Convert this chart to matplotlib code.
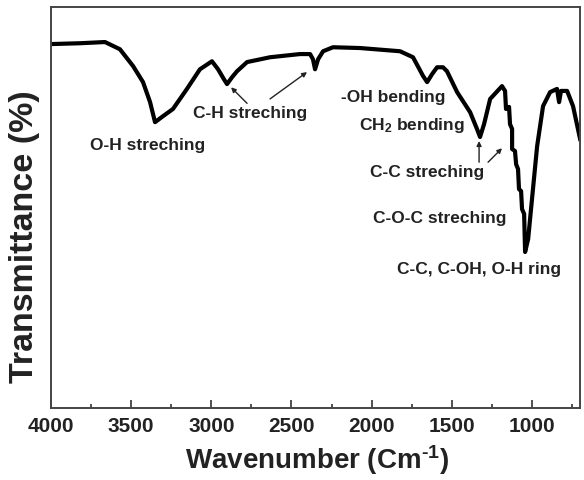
import matplotlib
matplotlib.use("Agg")
import matplotlib.pyplot as plt

plt.rcParams['font.family'] = ['Liberation Sans', 'DejaVu Sans']
plt.rcParams['mathtext.fontset'] = 'custom'
plt.rcParams['mathtext.rm'] = 'Liberation Sans:bold'
plt.rcParams['mathtext.bf'] = 'Liberation Sans:bold'
plt.rcParams['mathtext.it'] = 'Liberation Sans:bold'

wavenumber = [3994, 3819, 3663, 3570, 3488, 3426, 3382, 3351, 3308, 3239, 3152, 3071,
              2996, 2958, 2921, 2902, 2871, 2840, 2777, 2634, 2447, 2384, 2366, 2353,
              2334, 2303, 2241, 2072, 1823, 1742, 1679, 1654, 1623, 1592, 1555, 1530,
              1467, 1386, 1343, 1324, 1299, 1261, 1187, 1168, 1162, 1143, 1137, 1124,
              1124, 1106, 1099, 1087, 1081, 1068, 1062, 1049, 1043, 1024, 1012, 968,
              931, 887, 844, 831, 819, 781, 744, 700]
transmittance = [90.8, 91.0, 91.3, 89.5, 85.3, 81.3, 76.3, 71.3, 72.6, 74.6, 79.6, 84.5,
                 86.5, 84.5, 82.0, 80.8, 82.5, 84.0, 86.3, 87.5, 88.3, 88.3, 87.0, 84.5,
                 87.0, 89.0, 90.0, 89.8, 89.0, 87.5, 82.8, 81.3, 83.3, 85.0, 85.0, 84.0,
                 78.8, 73.8, 69.6, 67.6, 70.8, 77.1, 80.3, 79.1, 74.6, 75.1, 70.8, 69.6,
                 64.6, 64.1, 60.8, 59.6, 54.6, 54.1, 49.6, 48.4, 38.9, 42.1, 47.1, 65.3,
                 75.3, 78.8, 79.6, 76.3, 79.1, 79.1, 75.3, 67.1]

xticks = [4000, 3500, 3000, 2500, 2000, 1500, 1000]

fig = plt.figure(figsize=(5.84, 4.81), dpi=100)
ax = fig.add_axes([0.0873, 0.150, 0.906, 0.833])
ax.plot(wavenumber, transmittance, color='black', lw=3.0, solid_joinstyle='round')
ax.set_xlim(4000, 700)
ax.set_ylim(0, 100)
ax.set_yticks([])
ax.set_xticks(xticks)
ax.set_xticks([3750, 3250, 2750, 2250, 1750, 1250, 750], minor=True)
ax.tick_params(axis='x', which='major', direction='in', length=6, width=1.2,
               labelsize=15, pad=6, colors='#333333', labelcolor='#222222')
ax.tick_params(axis='x', which='minor', direction='in', length=3, width=1.2, colors='#333333')
for lab in ax.get_xticklabels():
    lab.set_fontweight('bold')
for s in ax.spines.values():
    s.set_color('#444444')
    s.set_linewidth(1.4)

ax.set_ylabel('Transmittance (%)', fontsize=24.5, fontweight='bold', color='#222222')
ax.yaxis.set_label_coords(-0.021, 0.43)
ax.set_xlabel('Wavenumber (Cm$^{\\text{-}1}$)', fontsize=20, fontweight='bold', color='#222222')
ax.xaxis.set_label_coords(0.503, -0.085)

tk = dict(fontsize=12.5, fontweight='bold', color='#222222', ha='center', va='center')
ap = dict(arrowstyle='-|>', lw=1.0, color='#222222', mutation_scale=7, shrinkA=0, shrinkB=0)

ax.text(3395, 65.8, 'O-H streching', **tk)
ax.text(2759, 73.8, 'C-H streching', **tk)
ax.annotate('', xy=(2877, 80.0), xytext=(2777, 76.0), arrowprops=ap)
ax.annotate('', xy=(2403, 83.8), xytext=(2634, 77.1), arrowprops=ap)
ax.text(1867, 77.6, '-OH bending', **tk)
ax.text(1748, 70.6, 'CH$_2$ bending', **tk)
ax.text(1655, 58.9, 'C-C streching', **tk)
ax.annotate('', xy=(1330, 66.6), xytext=(1330, 61.3), arrowprops=ap)
ax.annotate('', xy=(1187, 64.8), xytext=(1274, 61.3), arrowprops=ap)
ax.text(1573, 47.6, 'C-O-C streching', **tk)
ax.text(1330, 34.9, 'C-C, C-OH, O-H ring', **tk)

fig.savefig('out.png', dpi=100)
